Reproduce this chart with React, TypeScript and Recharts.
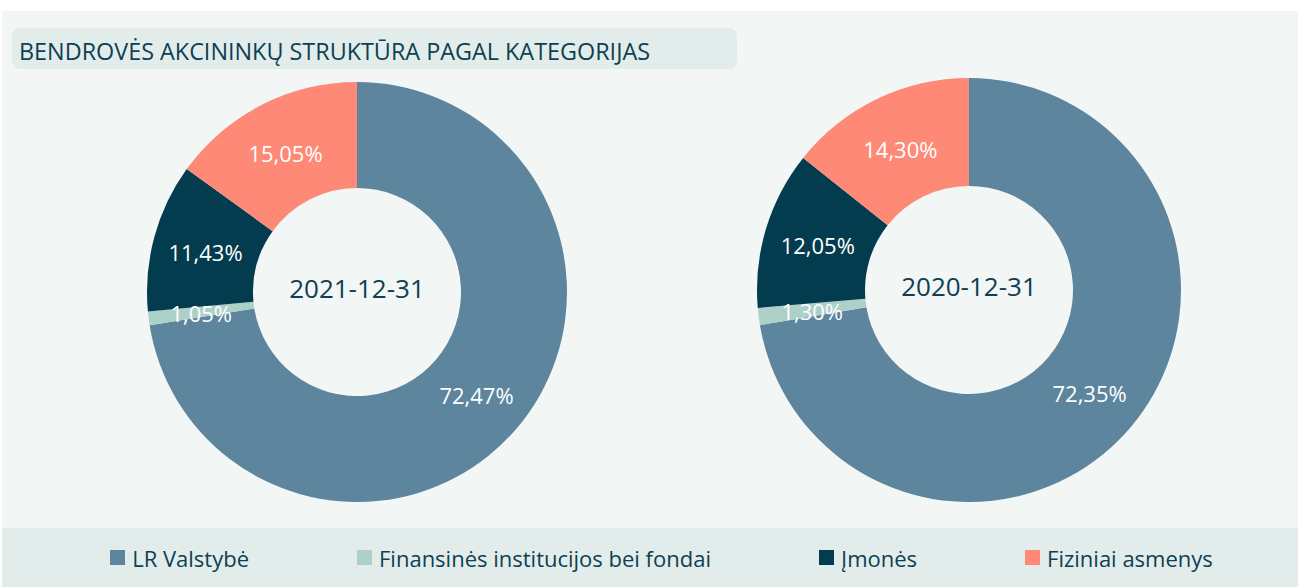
import { PieChart, Pie, Cell, Legend } from 'recharts';

const categories = [
  'LR Valstybė',
  'Finansinės institucijos bei fondai',
  'Įmonės',
  'Fiziniai asmenys',
];
const values2021 = [72.47, 1.05, 11.43, 15.05];
const values2020 = [72.35, 1.3, 12.05, 14.3];
const periods = ['2021-12-31', '2020-12-31'];
const title = 'BENDROVĖS AKCININKŲ STRUKTŪRA PAGAL KATEGORIJAS';

const COLORS = ['#5d859e', '#add1c8', '#023c4e', '#fe8976'];
const TEXT = '#0e3f52';
const FONT = '"Open Sans", "Noto Sans", sans-serif';

const toRows = (vals: number[]) => categories.map((name, i) => ({ name, value: vals[i] }));
const data2021 = toRows(values2021);
const data2020 = toRows(values2020);

const RADIAN = Math.PI / 180;

// slice percentage at mid radius; the first slice also draws the period in the hole
const makeSliceLabel = (period: string) => (props: any) => {
  const { cx, cy, midAngle, innerRadius, outerRadius, value, index } = props;
  const r = (innerRadius + outerRadius) / 2;
  const x = cx + r * Math.cos(-midAngle * RADIAN);
  const y = cy + r * Math.sin(-midAngle * RADIAN);
  return (
    <g>
      <text
        x={x}
        y={y + 1}
        fill="#ffffff"
        textAnchor="middle"
        dominantBaseline="central"
        style={{ fontSize: 22, fontFamily: FONT }}
      >
        {value.toFixed(2).replace('.', ',')}%
      </text>
      {index === 0 && (
        <text
          x={cx}
          y={cy - 4}
          fill={TEXT}
          textAnchor="middle"
          dominantBaseline="central"
          style={{ fontSize: 26, fontFamily: FONT }}
        >
          {period}
        </text>
      )}
    </g>
  );
};

const renderLegend = () => (
  <div
    style={{
      display: 'flex',
      justifyContent: 'center',
      alignItems: 'center',
      gap: 108,
      height: '100%',
      paddingLeft: 22,
      boxSizing: 'border-box',
      fontFamily: FONT,
      fontSize: 22,
      color: TEXT,
    }}
  >
    {categories.map((name, i) => (
      <div key={name} style={{ display: 'flex', alignItems: 'center' }}>
        <span
          style={{
            display: 'inline-block',
            width: 15,
            height: 15,
            background: COLORS[i],
            marginRight: 7,
          }}
        />
        <span>{name}</span>
      </div>
    ))}
  </div>
);

export default function App() {
  return (
    <div
      style={{
        position: 'absolute',
        left: 0,
        top: 0,
        width: 1301,
        height: 587,
        background: '#ffffff',
        fontFamily: FONT,
        overflow: 'hidden',
      }}
    >
      <div style={{ position: 'absolute', left: 2, top: 11, width: 1296, height: 576, background: '#f2f6f5' }} />
      <div style={{ position: 'absolute', left: 2, top: 528, width: 1296, height: 59, background: '#e2edeb' }} />
      <div
        style={{
          position: 'absolute',
          left: 12,
          top: 28,
          width: 725,
          height: 41,
          background: '#e2edeb',
          borderRadius: 8,
        }}
      >
        <svg width={725} height={41} style={{ display: 'block' }}>
          <text
            x={7}
            y={32}
            fill={TEXT}
            textLength={631}
            lengthAdjust="spacingAndGlyphs"
            style={{ fontSize: 23, fontFamily: FONT }}
          >
            {title}
          </text>
        </svg>
      </div>
      <div style={{ position: 'absolute', left: 0, top: 0 }}>
        <PieChart width={1301} height={587} margin={{ top: 0, right: 0, bottom: 0, left: 0 }}>
          <Pie
            data={data2021}
            dataKey="value"
            nameKey="name"
            cx={357}
            cy={292}
            innerRadius={104}
            outerRadius={210}
            startAngle={90}
            endAngle={-270}
            stroke="none"
            label={makeSliceLabel(periods[0])}
            labelLine={false}
            isAnimationActive={false}
          >
            {data2021.map((d, i) => (
              <Cell key={d.name} fill={COLORS[i]} />
            ))}
          </Pie>
          <Pie
            data={data2020}
            dataKey="value"
            nameKey="name"
            cx={969}
            cy={290}
            innerRadius={104}
            outerRadius={212}
            startAngle={90}
            endAngle={-270}
            stroke="none"
            label={makeSliceLabel(periods[1])}
            labelLine={false}
            isAnimationActive={false}
          >
            {data2020.map((d, i) => (
              <Cell key={d.name} fill={COLORS[i]} />
            ))}
          </Pie>
          <Legend
            verticalAlign="bottom"
            content={renderLegend}
            wrapperStyle={{ left: 0, top: 528, bottom: 'auto', width: 1301, height: 59 }}
          />
        </PieChart>
      </div>
    </div>
  );
}
